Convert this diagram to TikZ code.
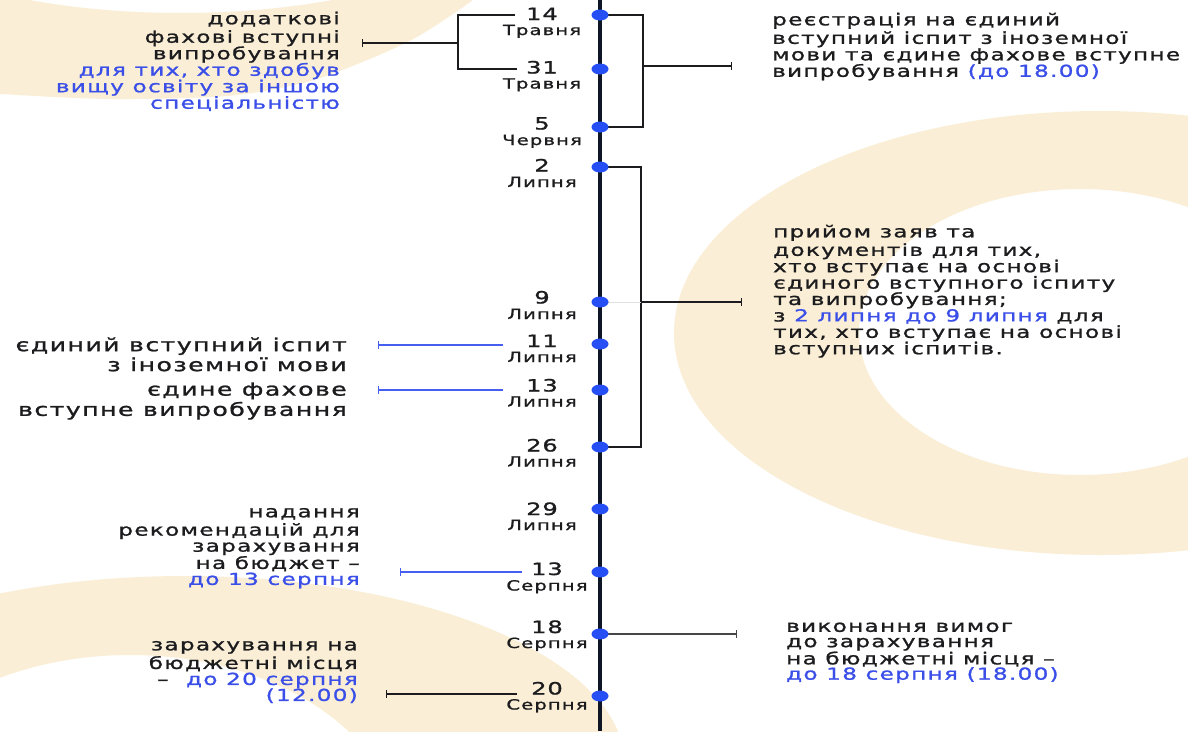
\documentclass[tikz,border=0pt]{standalone}
\usepackage{fontspec}
\setmainfont{DejaVu Sans}
\newfontfamily\bodyfont[FakeStretch=1.4,LetterSpace=8,FakeBold=1.2]{DejaVu Sans}
\newfontfamily\numfont[FakeStretch=1.42,LetterSpace=5,FakeBold=1.2]{DejaVu Sans}
\usetikzlibrary{arrows.meta,shapes.geometric}
\definecolor{bgcream}{RGB}{250,239,214}
\definecolor{navy}{RGB}{14,22,40}
\definecolor{dotblue}{RGB}{38,78,245}
\definecolor{txtblue}{RGB}{58,78,232}
\definecolor{linkblue}{RGB}{70,95,240}
\definecolor{ink}{RGB}{28,28,30}
\definecolor{paleline}{RGB}{225,225,228}
\definecolor{greyline}{RGB}{70,70,72}
\tikzset{
  txt/.style={inner sep=0pt, font=\bodyfont\fontsize{16.5}{16.5}\selectfont, text=ink},
  bigtxt/.style={inner sep=0pt, font=\bodyfont\fontsize{18}{17.5}\selectfont, text=ink},
  numlbl/.style={inner sep=0pt, anchor=base, font=\numfont\fontsize{17}{17}\selectfont, text=ink},
  monlbl/.style={inner sep=0pt, anchor=base, font=\bodyfont\fontsize{14}{14}\selectfont, text=ink},
  dotmark/.style={ellipse, fill=dotblue, inner sep=0pt, minimum width=17pt, minimum height=11pt},
  conn/.style={draw=ink, line width=1.2pt},
  bconn/.style={draw=linkblue, line width=1.2pt},
  tickend/.style={-{Bar[width=8pt]}},
  bgfill/.style={fill=bgcream, even odd rule},
  axisline/.style={draw=navy, line width=4.5pt},
}
\begin{document}
\begin{tikzpicture}[x=1pt,y=-1pt]
\useasboundingbox (0,0) rectangle (1188,731);
\fill[white] (0,0) rectangle (1188,731);
\begin{scope}
\clip (0,0) rectangle (1188,731);
% background rings
\fill[bgfill] plot[smooth] coordinates {(-20,92) (0,94) (110,99) (227,96) (303,83) (360,63) (417,37) (473,0) (495,-20)} -- (-20,-20) -- cycle
  (181,-120) ellipse [x radius=351pt, y radius=133pt];
\fill[bgfill] (1100,333) ellipse [x radius=426pt, y radius=222pt]
  (1080,332) ellipse [x radius=221pt, y radius=143pt];
\fill[bgfill] (185,765) ellipse [x radius=440pt, y radius=189pt]
  (130,840) ellipse [x radius=270pt, y radius=185pt];
\end{scope}

% axis
\coordinate (axTop) at (600,0);
\coordinate (axBot) at (600,731);
\draw[axisline] (axTop) -- (axBot);

% dot positions
\coordinate (p1) at (600,15);
\coordinate (p2) at (600,69);
\coordinate (p3) at (600,127);
\coordinate (p4) at (600,167);
\coordinate (p5) at (600,302);
\coordinate (p6) at (600,344);
\coordinate (p7) at (600,390);
\coordinate (p8) at (600,447);
\coordinate (p9) at (600,509);
\coordinate (p10) at (600,572);
\coordinate (p11) at (600,634);
\coordinate (p12) at (600,696);

% top-left bracket
\coordinate (bl1) at (515,15);
\coordinate (bl2) at (517,69);
\coordinate (blA) at (458,15);
\coordinate (blB) at (458,69);
\coordinate (blM) at (458,43);
\coordinate (blT) at (362,43);
\draw[conn] (bl1) -- (blA) -- (blB) -- (bl2);
\draw[conn,tickend] (blM) -- (blT);

% top-right bracket
\coordinate (br1) at (643,15);
\coordinate (br2) at (643,127);
\coordinate (brM) at (643,66);
\coordinate (brT) at (732,66);
\draw[conn] (p1) -- (br1) -- (br2) -- (p3);
\draw[conn,tickend] (brM) -- (brT);

% July bracket
\coordinate (jb1) at (641,167);
\coordinate (jb2) at (641,447);
\coordinate (jbM) at (641,302);
\coordinate (jbT) at (742,302);
\draw[conn] (p4) -- (jb1) -- (jb2) -- (p8);
\draw[draw=paleline, line width=1pt] (p5) -- (jbM);
\draw[conn,tickend] (jbM) -- (jbT);

% left connectors
\coordinate (c11) at (503,345);
\coordinate (t11) at (378,345);
\draw[bconn,tickend] (c11) -- (t11);
\coordinate (c13) at (503,390);
\coordinate (t13) at (378,390);
\draw[bconn,tickend] (c13) -- (t13);
\coordinate (c13s) at (522,572);
\coordinate (t13s) at (400,572);
\draw[bconn,tickend] (c13s) -- (t13s);
\coordinate (c20) at (517,694);
\coordinate (t20) at (386,694);
\draw[conn,tickend] (c20) -- (t20);

% right connector 18
\coordinate (t18) at (737,634);
\draw[draw=greyline, line width=1.2pt, tickend] (p11) -- (t18);

% dots
\foreach \i in {1,...,12} { \node[dotmark] (d\i) at (p\i) {}; }

% date labels
\node[numlbl] (n1) at (542,20) {14};
\node[monlbl] (m1) at (542,35) {Травня};
\node[numlbl] (n2) at (542,73.5) {31};
\node[monlbl] (m2) at (542,88.5) {Травня};
\node[numlbl] (n3) at (542,129.5) {5};
\node[monlbl] (m3) at (542,145) {Червня};
\node[numlbl] (n4) at (542,171.5) {2};
\node[monlbl] (m4) at (542,187) {Липня};
\node[numlbl] (n5) at (542,303.5) {9};
\node[monlbl] (m5) at (542,319) {Липня};
\node[numlbl] (n6) at (542,347) {11};
\node[monlbl] (m6) at (542,362) {Липня};
\node[numlbl] (n7) at (542,391.5) {13};
\node[monlbl] (m7) at (542,406.5) {Липня};
\node[numlbl] (n8) at (542,451.5) {26};
\node[monlbl] (m8) at (542,466.5) {Липня};
\node[numlbl] (n9) at (542,515) {29};
\node[monlbl] (m9) at (542,530) {Липня};
\node[numlbl] (n10) at (547,575) {13};
\node[monlbl] (m10) at (547,590.5) {Серпня};
\node[numlbl] (n11) at (547,633) {18};
\node[monlbl] (m11) at (547,648) {Серпня};
\node[numlbl] (n12) at (547,694.5) {20};
\node[monlbl] (m12) at (547,709.5) {Серпня};

% text blocks
\node[txt, align=right, anchor=north east] (tlText) at (340,11.5)
  {\strut додаткові\\фахові вступні\\випробування\\\textcolor{txtblue}{для тих, хто здобув}\\\textcolor{txtblue}{вищу освіту за іншою}\\\textcolor{txtblue}{спеціальністю}};
\node[txt, align=left, anchor=north west] (trText) at (772,12.6)
  {\strut реєстрація на єдиний\\вступний іспит з іноземної\\мови та єдине фахове вступне\\випробування \textcolor{txtblue}{(до 18.00)}};
\node[txt, font=\bodyfont\fontsize{16.5}{16.4}\selectfont, align=left, anchor=north west] (mrText) at (773,224.6)
  {\strut прийом заяв та\\документів для тих,\\хто вступає на основі\\єдиного вступного іспиту\\та випробування;\\з \textcolor{txtblue}{2 липня до 9 липня} для\\тих, хто вступає на основі\\вступних іспитів.};
\node[bigtxt, align=right, anchor=north east] (l11Text) at (347,337.3)
  {\strut єдиний вступний іспит\\з іноземної мови};
\node[bigtxt, align=right, anchor=north east] (l13Text) at (347,382.3)
  {\strut єдине фахове\\вступне випробування};
\node[txt, font=\bodyfont\fontsize{16.5}{16}\selectfont, align=right, anchor=north east] (l13sText) at (360,505.9)
  {\strut надання\\рекомендацій для\\зарахування\\на бюджет –\\\textcolor{txtblue}{до 13 серпня}};
\node[txt, font=\bodyfont\fontsize{16.5}{16}\selectfont, align=right, anchor=north east] (l20Text) at (358,638.9)
  {\strut зарахування на\\бюджетні місця\\–\ \ \textcolor{txtblue}{до 20 серпня}\\\textcolor{txtblue}{(12.00)}};
\node[txt, font=\bodyfont\fontsize{16.5}{15.3}\selectfont, align=left, anchor=north west] (r18Text) at (786,620.9)
  {\strut виконання вимог\\до зарахування\\на бюджетні місця –\\\textcolor{txtblue}{до 18 серпня (18.00)}};
\end{tikzpicture}
\end{document}
